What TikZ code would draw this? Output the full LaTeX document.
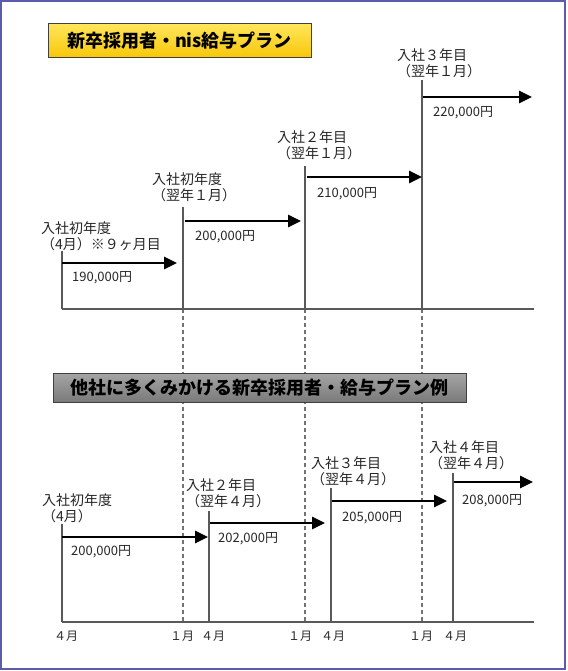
\documentclass[tikz,border=0pt]{standalone}
\usepackage{fontspec}
\newfontfamily\jp{Noto Sans CJK JP}
\usetikzlibrary{arrows.meta}
\definecolor{frameblue}{RGB}{92,92,172}
\definecolor{ylTop}{RGB}{255,230,90}
\definecolor{ylBot}{RGB}{248,198,8}
\definecolor{gyTop}{RGB}{165,165,165}
\definecolor{gyBot}{RGB}{122,122,122}

\begin{document}
\begin{tikzpicture}[x=1pt,y=-1pt,
  ttl/.style={draw=black!75,line width=1pt,font=\jp\bfseries\fontsize{18}{18}\selectfont},
  hd/.style={align=left,anchor=north west,inner sep=0pt,text=black!85,font=\jp\fontsize{14}{16}\selectfont},
  val/.style={anchor=west,inner sep=0pt,text=black!85,font=\jp\fontsize{13}{13}\selectfont},
  mo/.style={inner sep=0pt,text=black!85,font=\jp\fontsize{12}{12}\selectfont},
  ln/.style={draw=black!65,line width=1.8pt},
  dsh/.style={draw=black!55,line width=1.3pt,dash pattern=on 4pt off 3pt},
  ar/.style={-{Triangle[length=13pt,width=12pt]},line width=2.8pt}]
\useasboundingbox (0,0) rectangle (567,671);
\draw[frameblue,line width=2pt] (1,1) rectangle (565,669);

% upper plan
\coordinate (u0) at (62,309); \coordinate (u1) at (183,309);
\coordinate (u2) at (305,309); \coordinate (u3) at (422,309);
\coordinate (uend) at (534,309);
\coordinate (ut0) at (62,251); \coordinate (ut1) at (183,207);
\coordinate (ut2) at (305,166); \coordinate (ut3) at (422,80);
% lower plan
\coordinate (l0) at (62,622); \coordinate (l1) at (209,622);
\coordinate (l2) at (331,622); \coordinate (l3) at (453,622);
\coordinate (lend) at (534,622);
\coordinate (lt0) at (62,524); \coordinate (lt1) at (209,511);
\coordinate (lt2) at (331,488); \coordinate (lt3) at (453,473);
\coordinate (d1) at (183,622); \coordinate (d2) at (305,622); \coordinate (d3) at (422,622);

\draw[dsh] (u1) -- (d1);
\draw[dsh] (u2) -- (d2);
\draw[dsh] (u3) -- (d3);

\node[ttl,top color=ylTop,bottom color=ylBot,minimum width=263pt,minimum height=34pt]
  (nisplan) at (179.5,41) {新卒採用者・nis給与プラン};
\node[ttl,top color=gyTop,bottom color=gyBot,minimum width=413pt,minimum height=29pt]
  (otherplan) at (259.5,387.5) {他社に多くみかける新卒採用者・給与プラン例};

\draw[ln] (u0) -- (uend);
\draw[ln] (ut0) -- (u0);
\draw[ln] (ut1) -- (u1);
\draw[ln] (ut2) -- (u2);
\draw[ln] (ut3) -- (u3);
\draw[ln] (l0) -- (lend);
\draw[ln] (lt0) -- (l0);
\draw[ln] (lt1) -- (l1);
\draw[ln] (lt2) -- (l2);
\draw[ln] (lt3) -- (l3);

\coordinate (ua0) at (62,263);  \coordinate (ub0) at (177,263);
\coordinate (ua1) at (185,221); \coordinate (ub1) at (301,221);
\coordinate (ua2) at (307,177); \coordinate (ub2) at (422,177);
\coordinate (ua3) at (423,97);  \coordinate (ub3) at (532,97);
\draw[ar] (ua0) -- (ub0);
\draw[ar] (ua1) -- (ub1);
\draw[ar] (ua2) -- (ub2);
\draw[ar] (ua3) -- (ub3);

\coordinate (la0) at (62,537);  \coordinate (lb0) at (208,537);
\coordinate (la1) at (210,523); \coordinate (lb1) at (325,523);
\coordinate (la2) at (332,501); \coordinate (lb2) at (447,501);
\coordinate (la3) at (454,482); \coordinate (lb3) at (533,482);
\draw[ar] (la0) -- (lb0);
\draw[ar] (la1) -- (lb1);
\draw[ar] (la2) -- (lb2);
\draw[ar] (la3) -- (lb3);

\node[hd] (uh0) at (41,221) {入社初年度\\（4月）※９ヶ月目};
\node[hd] (uh1) at (152,172) {入社初年度\\（翌年１月）};
\node[hd] (uh2) at (277,130) {入社２年目\\（翌年１月）};
\node[hd] (uh3) at (397,48) {入社３年目\\（翌年１月）};
\node[val] (uv0) at (72,278) {190,000円};
\node[val] (uv1) at (195,237) {200,000円};
\node[val] (uv2) at (317,194) {210,000円};
\node[val] (uv3) at (433,113) {220,000円};

\node[hd] (lh0) at (42,493) {入社初年度\\（4月）};
\node[hd] (lh1) at (186,478) {入社２年目\\（翌年４月）};
\node[hd] (lh2) at (311,456) {入社３年目\\（翌年４月）};
\node[hd] (lh3) at (429,440) {入社４年目\\（翌年４月）};
\node[val] (lv0) at (71,552) {200,000円};
\node[val] (lv1) at (218,539) {202,000円};
\node[val] (lv2) at (342,518) {205,000円};
\node[val] (lv3) at (462,501) {208,000円};

\node[mo] (m0) at (66,636) {４月};
\node[mo] (m1) at (182,636) {１月};
\node[mo] (m2) at (213,636) {４月};
\node[mo] (m3) at (300,636) {１月};
\node[mo] (m4) at (333,636) {４月};
\node[mo] (m5) at (421,636) {１月};
\node[mo] (m6) at (455,636) {４月};
\end{tikzpicture}
\end{document}
